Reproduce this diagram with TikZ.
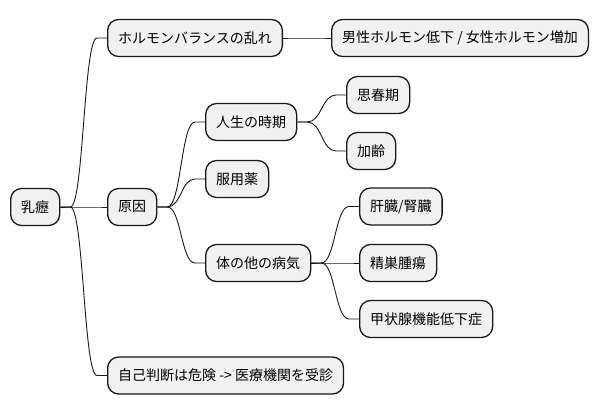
\documentclass[tikz,border=0pt]{standalone}
\usepackage{fontspec}
\setmainfont{Noto Sans CJK JP}
\usetikzlibrary{positioning,calc}
\usepackage{xcolor}
\definecolor{mapfill}{RGB}{241,241,241}
\definecolor{mapline}{RGB}{24,24,24}
\tikzset{
  topic/.style={draw=mapline, rounded corners=11pt, line width=1.3pt, fill=mapfill, anchor=west, inner xsep=10.5pt, inner ysep=0pt, minimum height=37pt, font=\fontsize{14}{17}\selectfont, text=black},
  branch/.style={draw=mapline, line width=0.9pt}
}
\newcommand{\mmlink}[2]{%
  \draw[branch] let \p1=(#1.east), \p2=(#2.west) in
    (\p1) -- (\x1+10pt,\y1) .. controls ({(\x1+\x2)/2},\y1) and ({(\x1+\x2)/2},\y2) .. (\x2-10pt,\y2) -- (\p2);}

\begin{document}
\begin{tikzpicture}[x=1pt, y=-1pt]
\useasboundingbox (0,0) rectangle (600,415);
\node[topic] (root) at (10,207) {乳癧};
\node[topic] (hormone) at (107,38) {ホルモンバランスの乱れ};
\node[topic] (ratio) at (331,38) {男性ホルモン低下 / 女性ホルモン増加};
\node[topic] (cause) at (107,207) {原因};
\node[topic] (life) at (205,122) {人生の時期};
\node[topic] (puberty) at (346,95) {思春期};
\node[topic] (aging) at (346,151) {加齢};
\node[topic] (drug) at (205,179) {服用薬};
\node[topic] (disease) at (205,263) {体の他の病気};
\node[topic] (organ) at (359,206.5) {肝臓/腎臓};
\node[topic] (tumor) at (359,263) {精巣腫瘍};
\node[topic] (thyroid) at (359,319) {甲状腺機能低下症};
\node[topic] (advice) at (107,375.5) {自己判断は危険 -> 医療機関を受診};
\foreach \a/\b in {root/hormone,hormone/ratio,root/cause,root/advice,cause/life,cause/drug,cause/disease,life/puberty,life/aging,disease/organ,disease/tumor,disease/thyroid}{\mmlink{\a}{\b}}
\end{tikzpicture}
\end{document}
